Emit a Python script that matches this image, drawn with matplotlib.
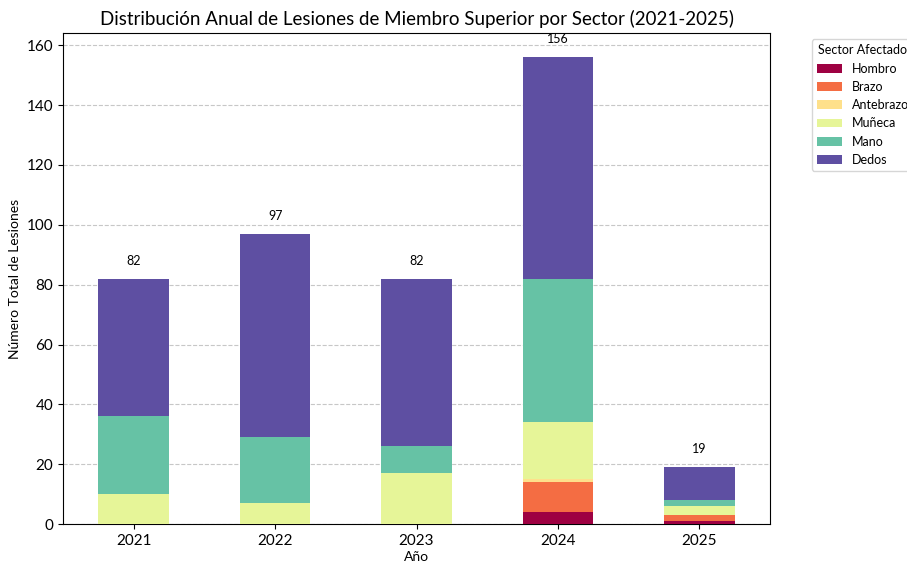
import numpy as np
import matplotlib.pyplot as plt
import pandas as pd

plt.rcParams['font.family'] = ['Lato', 'DejaVu Sans']

years = ['2021', '2022', '2023', '2024', '2025']
sectors = ['Hombro', 'Brazo', 'Antebrazo', 'Muñeca', 'Mano', 'Dedos']
hombro = [0, 0, 0, 4, 1]
brazo = [0, 0, 0, 10, 2]
antebrazo = [0, 0, 0, 1, 0]
muneca = [10, 7, 17, 19, 3]
mano = [26, 22, 9, 48, 2]
dedos = [46, 68, 56, 74, 11]

df = pd.DataFrame({'Hombro': hombro, 'Brazo': brazo, 'Antebrazo': antebrazo,
                   'Muñeca': muneca, 'Mano': mano, 'Dedos': dedos}, index=years)
totals = df.sum(axis=1)

fig, ax = plt.subplots(figsize=(9.07, 5.63), dpi=100)
fig.subplots_adjust(left=0.0695, right=0.849, bottom=0.069, top=0.941)

colors = plt.cm.Spectral(np.linspace(0, 1, len(sectors)))
df.plot(kind='bar', stacked=True, color=colors, width=0.5, ax=ax, zorder=3)

for i, t in enumerate(totals):
    ax.text(i, t + 4, str(t), ha='center', va='bottom', fontsize=9)

ax.set_title('Distribución Anual de Lesiones de Miembro Superior por Sector (2021-2025)', fontsize=13.5)
ax.set_xlabel('Año', fontsize=10, labelpad=2)
ax.set_ylabel('Número Total de Lesiones', fontsize=10)
ax.set_xticklabels(years, rotation=0, fontsize=11)
ax.tick_params(axis='y', labelsize=11)
ax.set_ylim(0, 164)
ax.yaxis.grid(True, linestyle='--', alpha=0.7, zorder=0)
ax.set_axisbelow(True)
ax.legend(title='Sector Afectado', bbox_to_anchor=(1.05, 1), loc='upper left', fontsize=9, title_fontsize=9)

plt.savefig('out.png', dpi=100)
